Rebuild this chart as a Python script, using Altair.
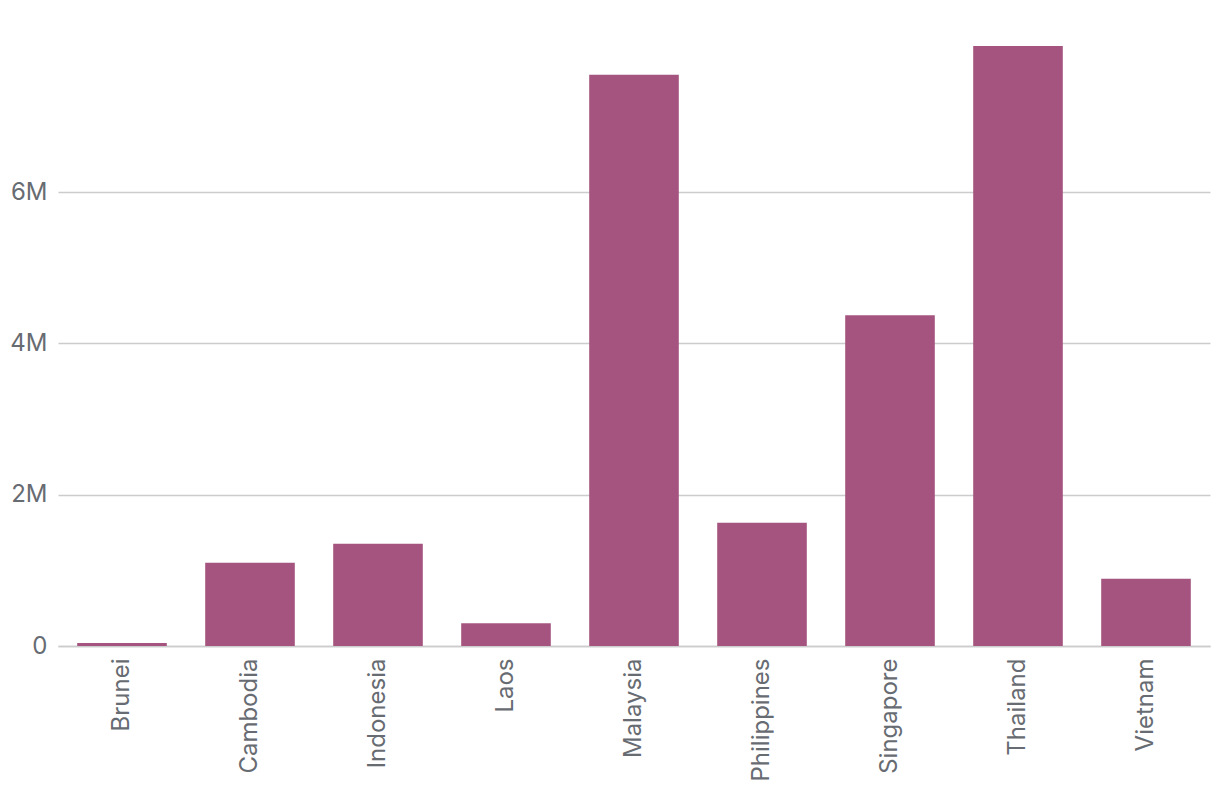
import altair as alt
import pandas as pd

countries = ["Brunei", "Cambodia", "Indonesia", "Laos", "Malaysia",
             "Philippines", "Singapore", "Thailand", "Vietnam"]
values = [40000, 1100000, 1350000, 300000, 7550000,
          1630000, 4370000, 7930000, 890000]

df = pd.DataFrame({"country": countries, "value": values})

chart = alt.Chart(df).mark_bar(color="#a4547f").encode(
    x=alt.X("country:N", sort=countries, title=None,
            scale=alt.Scale(paddingInner=0.3, paddingOuter=0.15),
            axis=alt.Axis(labelAngle=-90, labelPadding=12, ticks=False,
                          domainColor="#cccccc", domainWidth=1.5,
                          labelFont="Inter", labelFontSize=24,
                          labelColor="#676b72")),
    y=alt.Y("value:Q", title=None,
            scale=alt.Scale(domain=[0, 7930000], nice=False),
            axis=alt.Axis(values=[0, 2000000, 4000000, 6000000],
                          labelExpr="datum.value == 0 ? '0' : format(datum.value, '~s')",
                          domain=False, ticks=False, labelPadding=11,
                          gridColor="#cccccc", gridWidth=1.5,
                          labelFont="Inter", labelFontSize=24,
                          labelColor="#676b72")),
).properties(
    width=1152, height=600,
    autosize=alt.AutoSizeParams(type="none"),
    padding={"left": 58, "top": 46, "right": 10, "bottom": 158},
).configure_view(stroke=None)

chart.save("out.html", embed_options={"renderer": "svg", "actions": False})
